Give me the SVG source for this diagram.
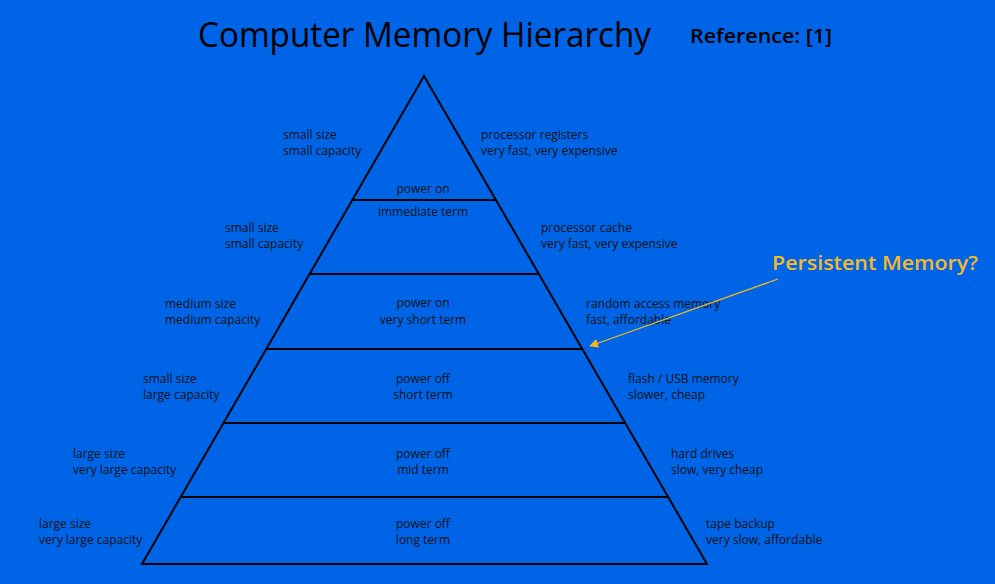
<svg xmlns="http://www.w3.org/2000/svg" width="995" height="584" viewBox="0 0 995 584">
<style>
.t{font-family:"Open Sans","Noto Sans","Liberation Sans",sans-serif;font-size:12px;fill:#111}
.c{text-anchor:middle}
.ln{stroke:#000;stroke-width:2;fill:none}
</style>
<defs>
<marker id="ah" viewBox="0 0 10 10" refX="9" refY="5" markerWidth="9" markerHeight="9" markerUnits="userSpaceOnUse" orient="auto">
<path d="M0,0 L10,5 L0,10 z" fill="#F2B81C"/>
</marker>
</defs>
<rect width="995" height="584" fill="#0064E6"/>
<g id="title">
<text x="198" y="47" font-family="Open Sans, Noto Sans, sans-serif" font-size="34" fill="#000" textLength="453" lengthAdjust="spacingAndGlyphs">Computer Memory Hierarchy</text>
<text x="690" y="43" font-family="Open Sans, Noto Sans, sans-serif" font-size="20" font-weight="600" fill="#000" textLength="142" lengthAdjust="spacingAndGlyphs">Reference: [1]</text>
</g>
<g id="pyramid">
<path class="ln" d="M142,564 L424,76 L707,564 Z"/>
</g>
<g id="level1">
<line class="ln" x1="352" y1="200" x2="496" y2="200"/>
<text class="t" x="283" y="139">small size</text>
<text class="t" x="283" y="155">small capacity</text>
<text class="t" x="481" y="139">processor registers</text>
<text class="t" x="481" y="155">very fast, very expensive</text>
<text class="t c" x="423" y="193">power on</text>
</g>
<g id="level2">
<line class="ln" x1="310" y1="274" x2="539" y2="274"/>
<text class="t c" x="423" y="216">immediate term</text>
<text class="t" x="225" y="232">small size</text>
<text class="t" x="225" y="248">small capacity</text>
<text class="t" x="541" y="232">processor cache</text>
<text class="t" x="541" y="248">very fast, very expensive</text>
</g>
<g id="level3">
<line class="ln" x1="267" y1="349" x2="582" y2="349"/>
<text class="t" x="165" y="308">medium size</text>
<text class="t" x="165" y="324">medium capacity</text>
<text class="t c" x="423" y="307">power on</text>
<text class="t c" x="423" y="324">very short term</text>
<text class="t" x="586" y="308">random access memory</text>
<text class="t" x="586" y="324">fast, affordable</text>
</g>
<g id="level4">
<line class="ln" x1="224" y1="423" x2="625" y2="423"/>
<text class="t" x="143" y="383">small size</text>
<text class="t" x="143" y="399">large capacity</text>
<text class="t c" x="423" y="383">power off</text>
<text class="t c" x="423" y="399">short term</text>
<text class="t" x="628" y="383">flash / USB memory</text>
<text class="t" x="628" y="399">slower, cheap</text>
</g>
<g id="level5">
<line class="ln" x1="181" y1="497" x2="668" y2="497"/>
<text class="t" x="73" y="458">large size</text>
<text class="t" x="73" y="474">very large capacity</text>
<text class="t c" x="423" y="458">power off</text>
<text class="t c" x="423" y="474">mid term</text>
<text class="t" x="671" y="458">hard drives</text>
<text class="t" x="671" y="474">slow, very cheap</text>
</g>
<g id="level6">
<text class="t" x="39" y="528">large size</text>
<text class="t" x="39" y="544">very large capacity</text>
<text class="t c" x="423" y="528">power off</text>
<text class="t c" x="423" y="544">long term</text>
<text class="t" x="706" y="528">tape backup</text>
<text class="t" x="706" y="544">very slow, affordable</text>
</g>
<g id="persistent">
<text x="772" y="270" font-family="Open Sans, Noto Sans, sans-serif" font-size="20" font-weight="600" fill="#F5B92A" textLength="206" lengthAdjust="spacingAndGlyphs">Persistent Memory?</text>
</g>
<g id="connectors">
<line x1="778" y1="279" x2="590" y2="346" stroke="#F2B81C" stroke-width="1.3" marker-end="url(#ah)"/>
</g>
</svg>
